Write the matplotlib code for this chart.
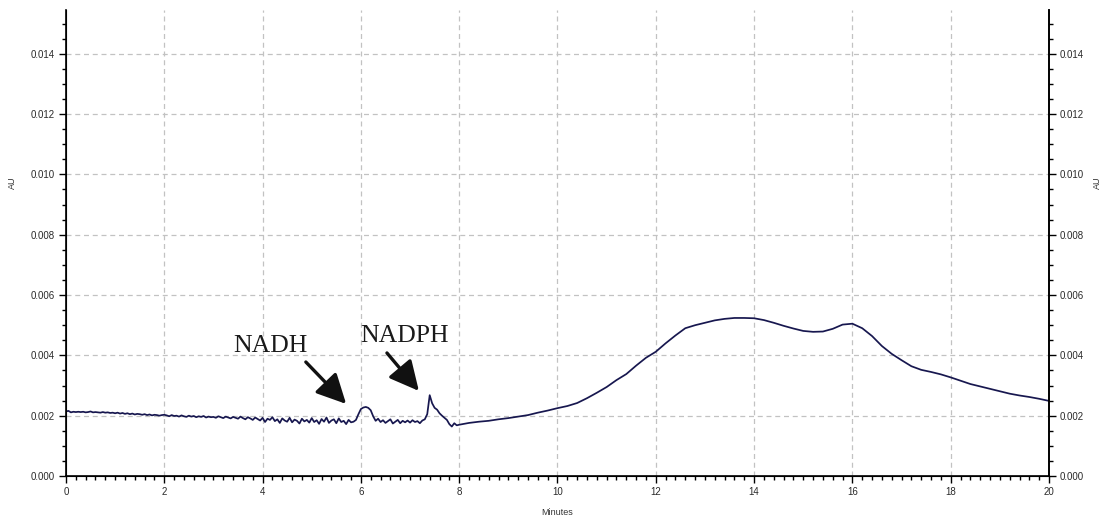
import matplotlib
matplotlib.use("Agg")
import matplotlib.pyplot as plt
import numpy as np
from matplotlib.ticker import FixedLocator, MultipleLocator, NullFormatter

# Baseline region, 0.00 - 7.95 min in 0.05 min steps (absorbance in mAU)
baseline_start = 0.0
baseline_step = 0.05
baseline_mau = [
    2.14, 2.16, 2.11, 2.13, 2.12, 2.13, 2.12, 2.13, 2.11, 2.12,
    2.14, 2.11, 2.12, 2.11, 2.10, 2.12, 2.10, 2.11, 2.09, 2.10,
    2.08, 2.10, 2.07, 2.09, 2.06, 2.08, 2.05, 2.07, 2.04, 2.06,
    2.05, 2.03, 2.05, 2.02, 2.04, 2.01, 2.03, 2.02, 2.00, 2.02,
    2.03, 2.01, 1.98, 2.02, 1.99, 2.00, 1.97, 2.01, 1.98, 1.96,
    2.00, 1.97, 1.99, 1.95, 1.98, 1.96, 1.99, 1.94, 1.97, 1.95,
    1.96, 1.93, 1.98, 1.95, 1.92, 1.97, 1.94, 1.91, 1.96, 1.93,
    1.90, 1.97, 1.92, 1.88, 1.95, 1.91, 1.86, 1.94, 1.89, 1.84,
    1.93, 1.79, 1.90, 1.86, 1.95, 1.82, 1.88, 1.76, 1.91, 1.84,
    1.80, 1.93, 1.78, 1.87, 1.83, 1.74, 1.90, 1.81, 1.86, 1.77,
    1.92, 1.79, 1.85, 1.73, 1.89, 1.80, 1.94, 1.76, 1.84, 1.88,
    1.75, 1.91, 1.79, 1.83, 1.72, 1.86, 1.78, 1.80, 1.86, 2.05,
    2.22, 2.27, 2.29, 2.26, 2.18, 1.98, 1.83, 1.90, 1.79, 1.85,
    1.76, 1.82, 1.88, 1.74, 1.80, 1.86, 1.75, 1.83, 1.78, 1.84,
    1.77, 1.85, 1.79, 1.82, 1.75, 1.84, 1.88, 2.05, 2.68, 2.41,
    2.26, 2.20, 2.08, 2.00, 1.93, 1.86, 1.72, 1.64, 1.75, 1.68,
]

# Broad late-eluting hump, 8.0 - 20.0 min in 0.2 min steps (mAU)
hump_start = 8.0
hump_step = 0.2
hump_mau = [
    1.70, 1.76, 1.80, 1.83, 1.88, 1.92, 1.97, 2.02, 2.10, 2.17,
    2.25, 2.32, 2.42, 2.58, 2.76, 2.95, 3.18, 3.38, 3.66, 3.92,
    4.12, 4.40, 4.66, 4.90, 5.00, 5.08, 5.16, 5.21, 5.24, 5.24,
    5.23, 5.17, 5.08, 4.98, 4.89, 4.81, 4.78, 4.79, 4.88, 5.02,
    5.05, 4.90, 4.64, 4.31, 4.05, 3.84, 3.64, 3.52, 3.45, 3.37,
    3.27, 3.16, 3.05, 2.97, 2.89, 2.81, 2.73, 2.67, 2.62, 2.56,
    2.49,
]

x_ticks = [0, 2, 4, 6, 8, 10, 12, 14, 16, 18, 20]
y_ticks = [0.000, 0.002, 0.004, 0.006, 0.008, 0.010, 0.012, 0.014]
y_tick_labels = ["0.000", "0.002", "0.004", "0.006", "0.008", "0.010", "0.012", "0.014"]

peak_names = ["NADH", "NADPH"]

t = np.concatenate([
    baseline_start + baseline_step * np.arange(len(baseline_mau)),
    hump_start + hump_step * np.arange(len(hump_mau)),
])
au = np.concatenate([baseline_mau, hump_mau]) / 1000.0

fig = plt.figure(figsize=(11.09, 5.16), dpi=100)
ax = fig.add_axes([0.0595, 0.0775, 0.8864, 0.9031])

ax.plot(t, au, color="#17174f", lw=1.25)

ax.set_xlim(0, 20)
ax.set_ylim(0, 0.01545)

for xv in x_ticks[1:-1]:
    ax.axvline(xv, color="#c2c2c2", lw=0.9, ls=(0, (4, 3)), zorder=0)
for yv in y_ticks[1:]:
    ax.axhline(yv, color="#c2c2c2", lw=0.9, ls=(0, (4, 3)), zorder=0)

tick_font = dict(family="Liberation Sans", size=7, color="#2a2a2a")

ax.xaxis.set_major_locator(FixedLocator(x_ticks))
ax.set_xticklabels([str(v) for v in x_ticks], **tick_font)
ax.xaxis.set_minor_locator(MultipleLocator(0.2))
ax.yaxis.set_major_locator(FixedLocator(y_ticks))
ax.set_yticklabels(y_tick_labels, **tick_font)
ax.yaxis.set_minor_locator(MultipleLocator(0.0005))
ax.tick_params(which="major", length=5, width=1, direction="out", pad=3)
ax.tick_params(which="minor", length=3, width=1, direction="out")

ax.spines["top"].set_visible(False)
for side in ("left", "bottom", "right"):
    ax.spines[side].set_linewidth(1.2)

ax2 = ax.twinx()
ax2.set_ylim(ax.get_ylim())
ax2.yaxis.set_major_locator(FixedLocator(y_ticks))
ax2.set_yticklabels(y_tick_labels, **tick_font)
ax2.yaxis.set_minor_locator(MultipleLocator(0.0005))
ax2.yaxis.set_minor_formatter(NullFormatter())
ax2.tick_params(which="major", length=5, width=1, direction="out", pad=3)
ax2.tick_params(which="minor", length=3, width=1, direction="out")
ax2.spines["top"].set_visible(False)
ax2.spines["right"].set_linewidth(1.2)

label_font = dict(family="Liberation Sans", size=6.5, color="#333333")
ax.set_xlabel("Minutes", labelpad=8, **label_font)
ax.set_ylabel("AU", **label_font)
ax.yaxis.set_label_coords(-0.05, 0.63)
ax2.set_ylabel("AU", **label_font)
ax2.yaxis.set_label_coords(1.045, 0.63)

# peak labels with arrows pointing at each peak
label_pos = [(3.40, 0.00411), (5.98, 0.00444)]
arrow_tail = [(4.88, 0.00378), (6.53, 0.00408)]
arrow_tip = [(5.70, 0.00239), (7.18, 0.00282)]
for name, lp, tail, tip in zip(peak_names, label_pos, arrow_tail, arrow_tip):
    ax.text(lp[0], lp[1], name, family="Liberation Serif", size=18.5,
            color="#1a1a1a", ha="left", va="baseline")
    ax.annotate("", xy=tip, xytext=tail,
                arrowprops=dict(arrowstyle="-|>,head_length=0.9,head_width=0.45",
                                color="#111111", lw=2.4, mutation_scale=20,
                                shrinkA=0, shrinkB=0))

fig.savefig("out.png", dpi=100)
